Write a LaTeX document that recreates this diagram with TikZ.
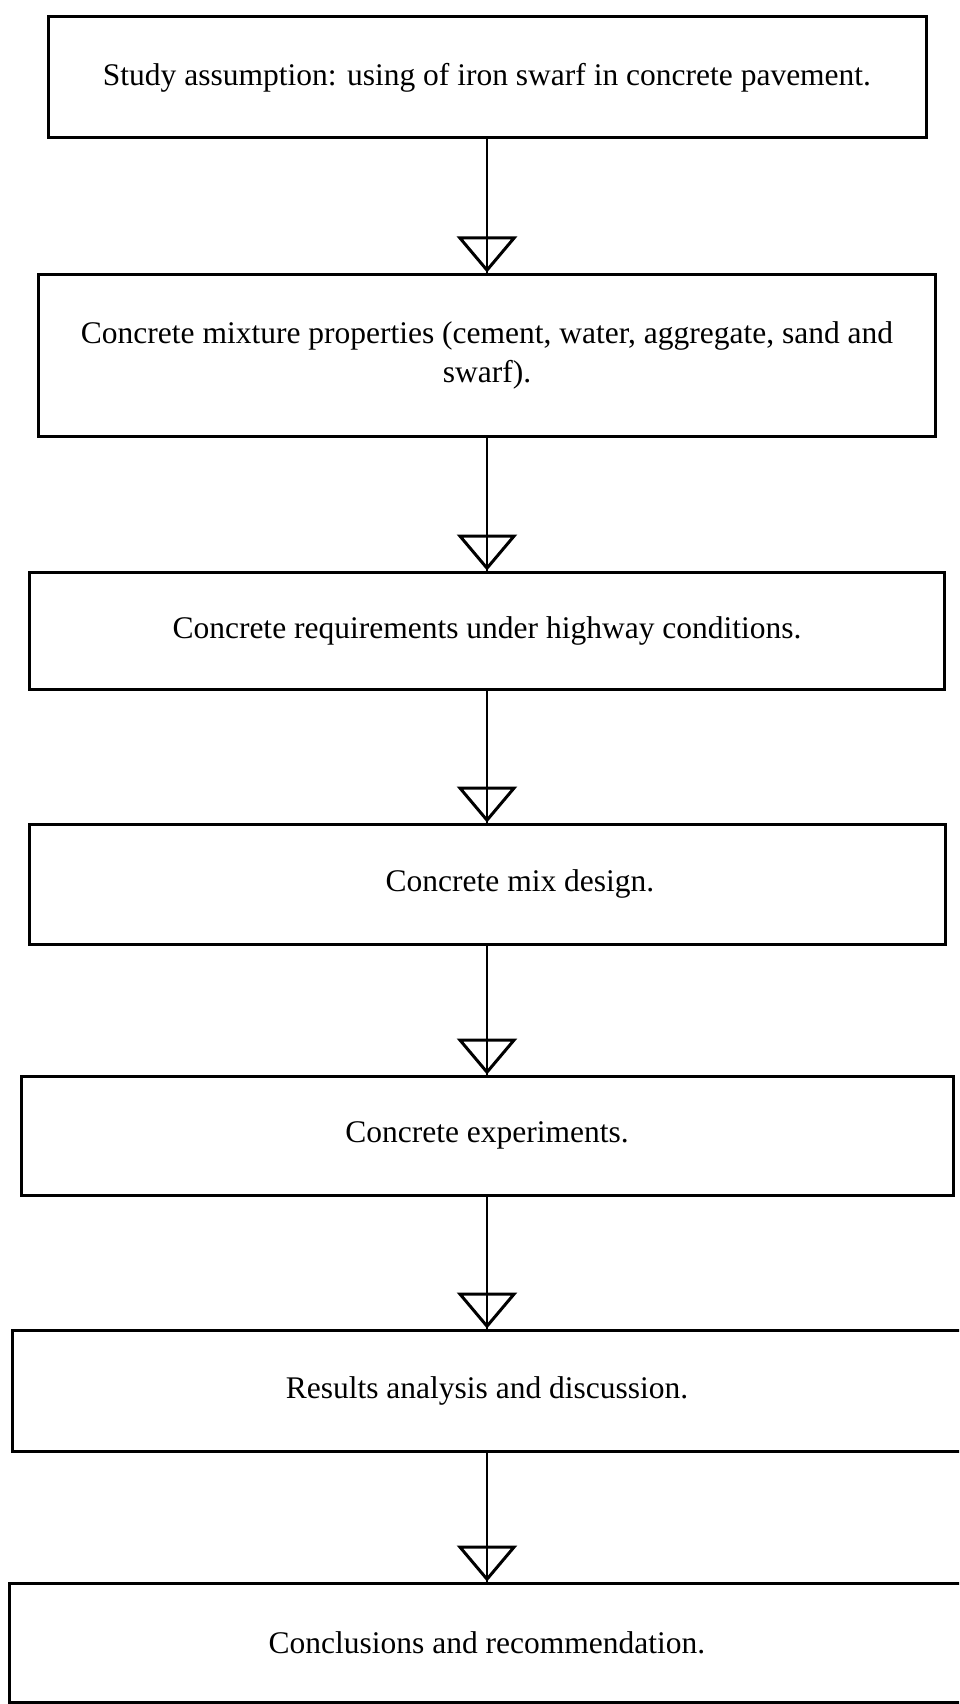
\documentclass[tikz,border=0pt]{standalone}
\usepackage{fontspec}
\setmainfont{Liberation Serif}
\usetikzlibrary{arrows.meta}
\begin{document}
\begin{tikzpicture}[
        x=1pt, y=-1pt,
        stage/.style={draw, line width=3pt, align=center, inner sep=0pt,
            font=\fontsize{31.5}{39}\selectfont},
        flow/.style={line width=2pt, postaction={draw,
            -{Triangle[open, length=36pt, width=60pt, line width=3pt]}}},
        ]
    \clip (0,0) rectangle (959,1704);
    \node (b1) [stage, minimum width=878pt, minimum height=121pt] at (487,77.5)
        {Study assumption: using of iron swarf in concrete pavement.};
    \node (b2) [stage, minimum width=897pt, minimum height=162pt] at (487,355)
        {Concrete mixture properties (cement, water, aggregate, sand and\\ swarf).};
    \node (b3) [stage, minimum width=915pt, minimum height=117pt] at (487,630.5)
        {Concrete requirements under highway conditions.};
    \node (b4) [stage, minimum width=916pt, minimum height=120pt] at (487,884)
        {\hspace*{66pt}Concrete mix design.};
    \node (b5) [stage, minimum width=932pt, minimum height=119pt] at (487,1135.5)
        {Concrete experiments.};
    \node (b6) [stage, minimum width=950pt, minimum height=121pt] at (487,1390.5)
        {Results analysis and discussion.};
    \node (b7) [stage, minimum width=956pt, minimum height=119pt] at (487,1642.5)
        {Conclusions and recommendation.};
    \foreach \a/\b in {b1/b2,b2/b3,b3/b4,b4/b5,b5/b6,b6/b7}
        \draw [flow] (\a) -- (\b);
\end{tikzpicture}
\end{document}
